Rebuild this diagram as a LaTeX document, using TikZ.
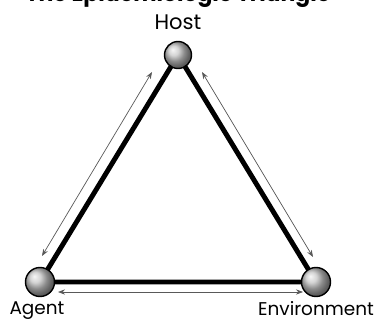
\documentclass[tikz,border=0pt]{standalone}
\usepackage{fontspec}
\setmainfont{Poppins}
\usepackage{tikz}
\usetikzlibrary{arrows.meta,positioning}

\begin{document}
\begin{tikzpicture}[
  ball/.style={circle, draw=black, line width=0.8pt, ball color=gray!45, minimum size=0.54cm, inner sep=0pt},
  lbl/.style={font=\fontsize{10.5}{12}\selectfont, inner sep=0pt},
  side/.style={line width=2.8pt, line cap=round},
  arrow/.style={<->, >={Stealth[length=4pt,width=3pt]}, gray!70!black, line width=0.4pt}
]
\useasboundingbox (0,0) rectangle (7.66,6.44);

% Title (cut at the top)
\node[anchor=base, font=\bfseries\fontsize{12.5}{14}\selectfont, inner sep=0pt] (title) at (3.56,6.41) {The Epidemiologic Triangle};

% Corners
\coordinate (h) at (3.56,5.34);
\coordinate (a) at (0.80,0.80);
\coordinate (e) at (6.32,0.80);

% Sides
\draw[side] (h) -- (a) -- (e) -- cycle;

\node[ball] (host) at (h) {};
\node[ball, minimum size=0.58cm] (agent) at (a) {};
\node[ball, minimum size=0.58cm] (env) at (e) {};

% Labels
\node[lbl, font=\fontsize{12}{14}\selectfont, above=0.22cm of host] (hostlbl) {Host};
\node[lbl, below=0.08cm of agent, xshift=-0.06cm] (agentlbl) {Agent};
\node[lbl, below=0.08cm of env] (envlbl) {Environment};

% Arrows
\coordinate (l1) at (3.04,5.00);
\coordinate (l2) at (0.84,1.32);
\coordinate (r1) at (4.04,5.00);
\coordinate (r2) at (6.26,1.30);
\coordinate (b1) at (1.16,0.60);
\coordinate (b2) at (6.06,0.60);
\draw[arrow] (l1) -- (l2);
\draw[arrow] (r1) -- (r2);
\draw[arrow] (b1) -- (b2);

\end{tikzpicture}
\end{document}
